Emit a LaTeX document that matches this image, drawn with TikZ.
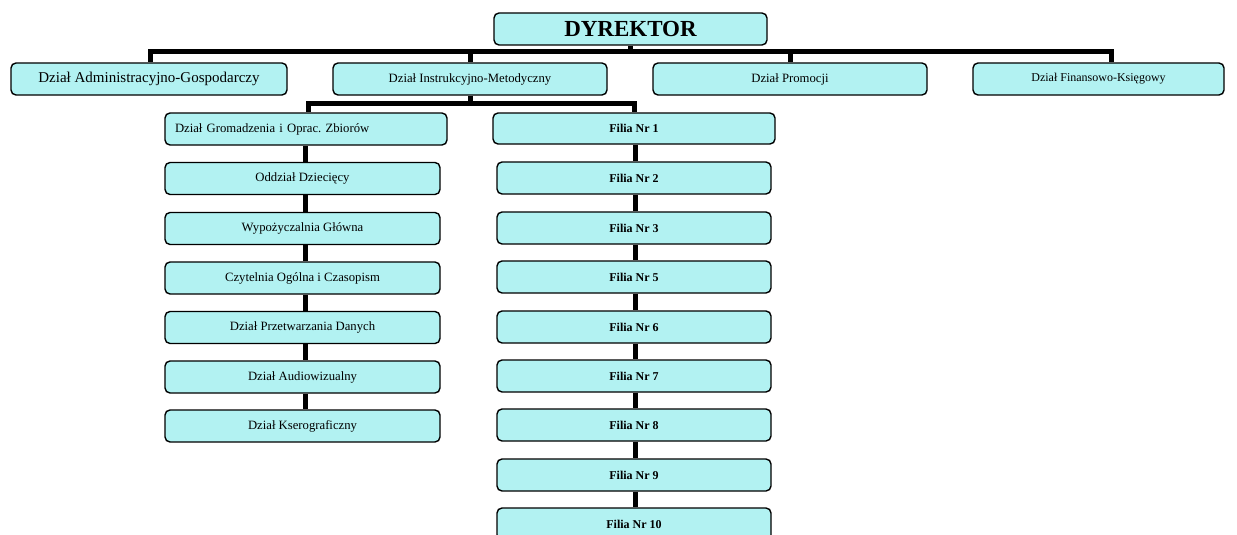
\documentclass[tikz,border=0pt]{standalone}
\usepackage{fontspec}
\setmainfont{Liberation Serif}
\frenchspacing
\definecolor{boxfill}{RGB}{178,242,242}
\tikzset{
  box/.style={draw=black, line width=1.4pt, rounded corners=5pt, fill=boxfill,
    inner sep=0pt, minimum height=32pt, font=\fontsize{12.7}{14}\selectfont},
  lbox/.style={box, minimum width=275pt},
  rbox/.style={box, minimum width=274pt, font=\fontsize{12}{14}\selectfont\bfseries},
  conn/.style={draw=black, line width=5pt}
}
\begin{document}
\begin{tikzpicture}[x=1pt,y=-1pt]
\useasboundingbox (0,0) rectangle (1237,535);
% top
\node[box, minimum width=273pt, font=\fontsize{23}{26}\selectfont\bfseries] (dyr) at (630.5,29) {DYREKTOR};
% second row
\node[box, minimum width=276pt, font=\fontsize{15}{17}\selectfont] (admin) at (149,79) {Dział Administracyjno-Gospodarczy};
\node[box, minimum width=274pt] (instr) at (470,79) {Dział Instrukcyjno-Metodyczny};
\node[box, minimum width=274pt] (prom) at (790,79) {Dział Promocji};
\node[box, minimum width=251pt, font=\fontsize{12}{14}\selectfont] (fin) at (1098.5,79) {Dział Finansowo-Księgowy};
% left column
\node[box, text width=262pt, inner xsep=10pt, align=left] (grom) at (306,129) {Dział Gromadzenia i Oprac. Zbiorów};
\node[lbox] (odd) at (302.5,178.5) {Oddział Dziecięcy};
\node[lbox] (wyp) at (302.5,228.5) {Wypożyczalnia Główna};
\node[lbox] (czy) at (302.5,278) {Czytelnia Ogólna i Czasopism};
\node[lbox] (prz) at (302.5,327.5) {Dział Przetwarzania Danych};
\node[lbox] (aud) at (302.5,377) {Dział Audiowizualny};
\node[lbox] (kse) at (302.5,426) {Dział Kserograficzny};
% right column
\node[rbox, minimum width=282pt, minimum height=31pt] (f1) at (634,128.5) {Filia Nr 1};
\node[rbox] (f2) at (634,178) {Filia Nr 2};
\node[rbox] (f3) at (634,228) {Filia Nr 3};
\node[rbox] (f5) at (634,277) {Filia Nr 5};
\node[rbox] (f6) at (634,327) {Filia Nr 6};
\node[rbox] (f7) at (634,376) {Filia Nr 7};
\node[rbox] (f8) at (634,425) {Filia Nr 8};
\node[rbox] (f9) at (634,475) {Filia Nr 9};
\node[rbox] (f10) at (634,524) {Filia Nr 10};
% main bus
\coordinate (bL) at (150,52);
\coordinate (bR) at (1111,52);
\draw[conn, line cap=rect] (bL) -- (bR);
\draw[conn] (dyr.south) -- (dyr.south |- bL);
\draw[conn] (bL) -- (bL |- admin.north);
\draw[conn] (instr.north) -- (instr.north |- bL);
\draw[conn] (prom.north) -- (prom.north |- bL);
\draw[conn] (bR) -- (bR |- fin.north);
% sub bus
\coordinate (sL) at (308,103);
\coordinate (sR) at (634,103);
\draw[conn] (instr.south) -- (instr.south |- sL);
\draw[conn, line cap=rect] (sL) -- (sR);
\draw[conn] (sL) -- (sL |- grom.north);
\draw[conn] (sR) -- (sR |- f1.north);
% left chain
\coordinate (xL) at (305,0);
\foreach \a/\b in {grom/odd, odd/wyp, wyp/czy, czy/prz, prz/aud, aud/kse}
  \draw[conn] (\a.south -| xL) -- (\b.north -| xL);
% right chain
\coordinate (xR) at (635,0);
\foreach \a/\b in {f1/f2, f2/f3, f3/f5, f5/f6, f6/f7, f7/f8, f8/f9, f9/f10}
  \draw[conn] (\a.south -| xR) -- (\b.north -| xR);
\end{tikzpicture}
\end{document}
